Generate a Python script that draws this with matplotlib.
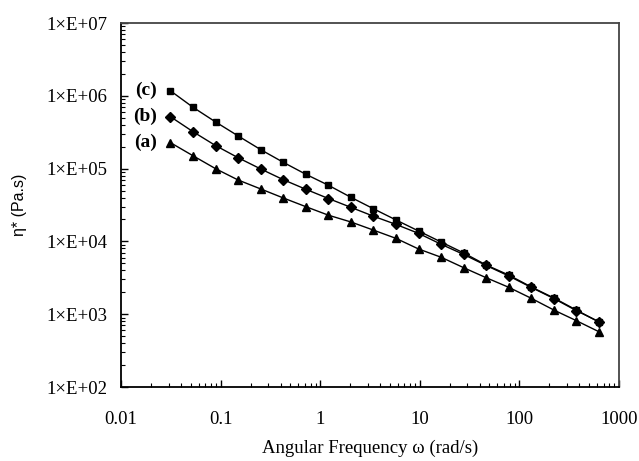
import matplotlib
matplotlib.use("Agg")
import matplotlib.pyplot as plt
from matplotlib.ticker import LogLocator, FixedLocator, NullFormatter

omega = [0.0314, 0.0529, 0.0891, 0.150, 0.253, 0.426, 0.717, 1.21, 2.03, 3.42,
         5.77, 9.71, 16.4, 27.6, 46.4, 78.2, 132, 222, 373, 628]
eta_a = [2.27e5, 1.50e5, 9.97e4, 6.97e4, 5.25e4, 3.95e4, 3.00e4, 2.29e4, 1.85e4, 1.43e4,
         1.10e4, 7.87e3, 6.05e3, 4.35e3, 3.17e3, 2.34e3, 1.65e3, 1.14e3, 8.15e2, 5.75e2]
eta_b = [5.16e5, 3.21e5, 2.07e5, 1.41e5, 9.88e4, 7.04e4, 5.20e4, 3.88e4, 2.94e4, 2.22e4,
         1.71e4, 1.29e4, 9.12e3, 6.61e3, 4.67e3, 3.35e3, 2.33e3, 1.64e3, 1.12e3, 7.9e2]
eta_c = [1.17e6, 6.95e5, 4.37e5, 2.81e5, 1.82e5, 1.22e5, 8.36e4, 5.90e4, 4.04e4, 2.81e4,
         1.97e4, 1.39e4, 9.8e3, 6.93e3, 4.74e3, 3.45e3, 2.36e3, 1.67e3, 1.14e3, 7.8e2]
series_labels = ["(a)", "(b)", "(c)"]
x_ticks = [0.01, 0.1, 1, 10, 100, 1000]
x_ticklabels = ["0.01", "0.1", "1", "10", "100", "1000"]
y_ticks = [1e2, 1e3, 1e4, 1e5, 1e6, 1e7]
y_ticklabels = ["1×E+02", "1×E+03", "1×E+04", "1×E+05", "1×E+06", "1×E+07"]

serif = ["Liberation Serif", "DejaVu Serif"]

fig = plt.figure(figsize=(6.39, 4.61), dpi=100)
ax = fig.add_axes([121/639, 1-387/461, (619-121)/639, (387-23)/461])

ax.plot(omega, eta_a, color="black", lw=1.0, marker="^", ms=5.5)
ax.plot(omega, eta_b, color="black", lw=1.0, marker="D", ms=5)
ax.plot(omega, eta_c, color="black", lw=1.0, marker="s", ms=5)

for lab, ys in zip(series_labels, [eta_a, eta_b, eta_c]):
    ax.annotate(lab, (omega[0], ys[0]), xytext=(-10, 0), textcoords="offset points",
                ha="right", va="center", fontsize=14, fontweight="bold", family=serif)

ax.set_xscale("log")
ax.set_yscale("log")
ax.set_xlim(0.01, 1000)
ax.set_ylim(1e2, 1e7)

ax.xaxis.set_major_locator(FixedLocator(x_ticks))
ax.set_xticklabels(x_ticklabels)
ax.yaxis.set_major_locator(FixedLocator(y_ticks))
ax.set_yticklabels(y_ticklabels)
ax.xaxis.set_minor_locator(LogLocator(base=10, subs=range(2, 10), numticks=20))
ax.yaxis.set_minor_locator(LogLocator(base=10, subs=range(2, 10), numticks=20))
ax.xaxis.set_minor_formatter(NullFormatter())
ax.yaxis.set_minor_formatter(NullFormatter())

ax.tick_params(which="both", direction="in", top=False, right=False, color="black")
ax.tick_params(which="major", length=5, width=1)
ax.tick_params(which="minor", length=3, width=0.8)
ax.tick_params(axis="x", which="major", pad=17)
ax.tick_params(axis="y", which="major", pad=10)
for lbl in ax.get_xticklabels() + ax.get_yticklabels():
    lbl.set_family(serif)
    lbl.set_fontsize(13.5)

for side in ["left", "bottom"]:
    ax.spines[side].set_linewidth(1.3)
    ax.spines[side].set_color("black")
for side in ["top", "right"]:
    ax.spines[side].set_linewidth(1.3)
    ax.spines[side].set_color("#444444")

ax.set_xlabel("Angular Frequency ω (rad/s)", family=serif, fontsize=13.5, labelpad=9)
ax.set_ylabel("η* (Pa.s)", family=["Liberation Sans", "DejaVu Sans"], fontsize=11.5, labelpad=14)

fig.savefig("out.png", dpi=100)
